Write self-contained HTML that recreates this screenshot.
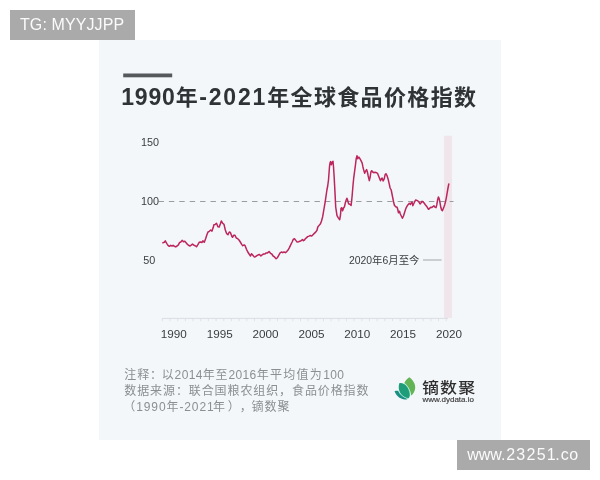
<!DOCTYPE html>
<html lang="zh-CN">
<head>
<meta charset="utf-8">
<title>1990年-2021年全球食品价格指数</title>
<style>
html,body{margin:0;padding:0;}
body{width:600px;height:480px;background:#fff;position:relative;overflow:hidden;font-family:"Liberation Sans","Noto Sans CJK SC",sans-serif;}
.tag{position:absolute;background:#aaaaaa;color:rgba(255,255,255,.95);font-family:"Liberation Sans",sans-serif;white-space:nowrap;}
#tag1{left:10px;top:10px;width:125px;height:30px;line-height:30px;font-size:16px;}
#tag1 span{position:absolute;left:10px;top:0.3px;letter-spacing:0.1px;}
#tag2{left:457px;top:440px;width:133px;height:30px;line-height:30px;font-size:16px;}
#tag2 span{position:absolute;left:10.2px;top:0.3px;}
#tag2 b{font-weight:normal;}
#tag2 .a{margin-left:0.8px;letter-spacing:1.25px;}
#tag2 .b{letter-spacing:-0.4px;}
#tag2 .c{margin-left:0.9px;letter-spacing:0.7px;}
#card{position:absolute;left:99px;top:40px;width:402px;height:400px;background:#f3f7fa;}
#art{position:absolute;left:0;top:0;width:600px;height:480px;}
#art text{font-family:"Liberation Sans","Noto Sans CJK SC",sans-serif;}
#title{font-size:22px;font-weight:bold;fill:#303336;letter-spacing:1.35px;}
#title .d{font-size:23px;letter-spacing:0.85px;}
#title .e{font-size:23px;letter-spacing:1.85px;}
.yl{font-size:10.8px;fill:#3a3d40;}
.xl{font-size:11.7px;fill:#3a3d40;}
#anno{font-size:10.4px;fill:#3a3d40;}
#note{font-size:12px;letter-spacing:0.9px;fill:#8b8f92;text-spacing-trim:space-all;}
#note .n{letter-spacing:0.35px;}
#note .w{letter-spacing:1.3px;}
#brand{font-size:17px;font-weight:500;letter-spacing:1.1px;fill:#2e2e2e;}
#url{font-family:"Liberation Sans",sans-serif;font-size:8px;fill:#3a3a3a;stroke:#3a3a3a;stroke-width:0.15px;}
</style>
</head>
<body>
<div class="tag" id="tag1"><span>TG: MYYJJPP</span></div>
<div id="card"></div>
<svg id="art" width="600" height="480" viewBox="0 0 600 480">
  <rect x="123.2" y="73.5" width="49" height="3.8" fill="#55595c"/>
  <text id="title" x="121.2" y="105.3"><tspan class="d">1990</tspan>年<tspan class="e">-2021</tspan>年全球食品价格指数</text>
  <rect x="444" y="135.7" width="8" height="182.2" fill="#f0e5eb"/>
  <line x1="158.5" y1="201.5" x2="453.5" y2="201.5" stroke="#9a9c9e" stroke-width="1.1" stroke-dasharray="5.4 5"/>
  <g stroke="#d3d7da" stroke-width="0.8">
    <line x1="162.3" y1="318.4" x2="448" y2="318.4"/>
  </g>
  <g stroke="#dadee1" stroke-width="0.8">
    <line x1="162.40" y1="318.4" x2="162.40" y2="321.2"/><line x1="170.07" y1="318.4" x2="170.07" y2="321.2"/><line x1="177.74" y1="318.4" x2="177.74" y2="321.2"/><line x1="185.41" y1="318.4" x2="185.41" y2="321.2"/><line x1="193.08" y1="318.4" x2="193.08" y2="321.2"/><line x1="200.75" y1="318.4" x2="200.75" y2="321.2"/><line x1="208.42" y1="318.4" x2="208.42" y2="321.2"/><line x1="216.09" y1="318.4" x2="216.09" y2="321.2"/><line x1="223.76" y1="318.4" x2="223.76" y2="321.2"/><line x1="231.43" y1="318.4" x2="231.43" y2="321.2"/><line x1="239.10" y1="318.4" x2="239.10" y2="321.2"/><line x1="246.77" y1="318.4" x2="246.77" y2="321.2"/><line x1="254.44" y1="318.4" x2="254.44" y2="321.2"/><line x1="262.11" y1="318.4" x2="262.11" y2="321.2"/><line x1="269.78" y1="318.4" x2="269.78" y2="321.2"/><line x1="277.45" y1="318.4" x2="277.45" y2="321.2"/><line x1="285.12" y1="318.4" x2="285.12" y2="321.2"/><line x1="292.79" y1="318.4" x2="292.79" y2="321.2"/><line x1="300.46" y1="318.4" x2="300.46" y2="321.2"/><line x1="308.13" y1="318.4" x2="308.13" y2="321.2"/><line x1="315.80" y1="318.4" x2="315.80" y2="321.2"/><line x1="323.47" y1="318.4" x2="323.47" y2="321.2"/><line x1="331.14" y1="318.4" x2="331.14" y2="321.2"/><line x1="338.81" y1="318.4" x2="338.81" y2="321.2"/><line x1="346.48" y1="318.4" x2="346.48" y2="321.2"/><line x1="354.15" y1="318.4" x2="354.15" y2="321.2"/><line x1="361.82" y1="318.4" x2="361.82" y2="321.2"/><line x1="369.49" y1="318.4" x2="369.49" y2="321.2"/><line x1="377.16" y1="318.4" x2="377.16" y2="321.2"/><line x1="384.83" y1="318.4" x2="384.83" y2="321.2"/><line x1="392.50" y1="318.4" x2="392.50" y2="321.2"/><line x1="400.17" y1="318.4" x2="400.17" y2="321.2"/><line x1="407.84" y1="318.4" x2="407.84" y2="321.2"/><line x1="415.51" y1="318.4" x2="415.51" y2="321.2"/><line x1="423.18" y1="318.4" x2="423.18" y2="321.2"/><line x1="430.85" y1="318.4" x2="430.85" y2="321.2"/><line x1="438.52" y1="318.4" x2="438.52" y2="321.2"/><line x1="446.19" y1="318.4" x2="446.19" y2="321.2"/>
  </g>
  <path d="M162.9,242.7 L164.3,242.3 L165.3,240.9 L166.7,243.3 L168.0,245.3 L169.3,246.3 L170.7,245.3 L172.0,246.0 L173.1,245.3 L174.4,246.3 L175.7,246.9 L177.1,246.0 L178.4,244.9 L179.5,242.7 L180.8,242.0 L182.1,240.4 L183.5,241.7 L184.8,241.2 L186.1,242.7 L187.5,244.4 L188.8,245.5 L190.1,246.0 L191.5,244.9 L192.5,244.1 L193.9,245.2 L195.2,245.7 L196.5,246.8 L197.9,244.7 L199.2,242.3 L200.5,242.0 L201.9,242.5 L202.9,240.9 L204.3,242.3 L205.6,238.7 L206.9,234.7 L208.0,232.0 L209.3,231.3 L210.7,230.0 L212.0,231.1 L213.3,227.3 L213.9,224.7 L215.2,224.4 L216.5,223.3 L217.9,226.7 L219.2,227.1 L220.3,224.0 L221.3,220.9 L222.7,223.3 L224.0,224.4 L225.3,230.0 L226.7,233.7 L228.0,234.7 L229.3,232.0 L230.4,232.4 L231.7,236.0 L232.5,237.3 L233.6,235.3 L235.0,235.3 L236.3,238.0 L237.7,238.7 L239.0,240.0 L240.3,242.0 L241.7,244.4 L242.7,245.7 L244.1,244.9 L245.1,245.7 L246.5,249.3 L247.8,252.0 L249.1,254.0 L250.5,256.0 L251.5,253.7 L252.9,255.3 L254.2,256.9 L255.5,256.7 L256.9,255.6 L258.2,254.8 L259.5,254.5 L260.9,256.0 L262.2,254.8 L263.5,254.0 L264.9,254.0 L266.2,252.9 L267.5,252.9 L269.1,251.6 L270.5,253.3 L271.8,254.0 L273.1,256.0 L274.5,256.9 L276.1,258.8 L277.4,257.7 L278.7,255.3 L280.1,252.9 L281.4,252.0 L282.7,252.7 L284.1,252.0 L285.4,252.7 L286.7,251.6 L288.1,250.0 L289.4,247.6 L290.7,244.9 L292.1,242.0 L293.4,239.1 L294.5,238.7 L295.8,240.4 L297.1,242.0 L298.5,241.7 L299.8,241.2 L301.1,240.7 L302.5,239.6 L303.5,240.7 L304.9,239.6 L305.0,239.0 L306.3,237.9 L307.7,236.6 L309.0,236.1 L310.3,235.5 L311.7,236.1 L313.0,234.7 L314.3,233.4 L315.7,232.1 L317.0,230.3 L317.8,227.0 L319.1,225.4 L320.5,223.7 L321.5,221.0 L322.6,217.0 L323.4,212.3 L324.2,207.7 L325.0,203.0 L325.8,197.7 L326.9,190.0 L327.7,186.0 L328.5,180.0 L329.0,173.3 L329.5,166.7 L330.1,162.7 L330.6,161.6 L331.4,164.7 L332.2,162.0 L333.0,161.3 L333.5,166.7 L334.1,176.0 L334.6,185.3 L335.1,194.7 L335.7,207.0 L336.5,212.3 L337.0,215.7 L338.3,217.9 L339.7,219.7 L340.5,215.0 L341.0,208.3 L341.8,207.7 L342.6,210.7 L343.7,207.7 L344.5,206.7 L345.3,203.0 L346.1,200.3 L346.9,198.3 L347.7,200.3 L348.5,203.7 L349.8,204.3 L351.1,205.4 L351.7,200.3 L352.2,195.0 L353.0,185.3 L353.8,177.3 L354.6,171.3 L355.4,165.3 L356.2,158.7 L357.0,155.7 L357.8,158.7 L358.9,157.1 L359.9,158.7 L361.0,160.7 L362.1,162.9 L362.9,166.7 L363.7,170.0 L364.7,173.3 L365.5,171.3 L366.6,169.6 L367.4,172.0 L368.2,176.0 L369.3,180.7 L370.1,177.3 L370.9,172.0 L371.7,170.7 L372.7,172.0 L373.8,172.7 L375.1,172.3 L376.5,172.7 L377.5,173.3 L378.6,176.0 L379.7,178.7 L380.5,180.7 L381.5,178.7 L382.1,178.0 L383.2,180.9 L384.3,178.7 L385.1,174.7 L385.9,173.7 L386.9,175.3 L388.0,178.7 L389.1,183.3 L390.1,188.0 L391.2,190.0 L392.0,194.0 L392.8,198.0 L393.6,202.0 L394.4,205.3 L395.7,206.7 L397.1,207.3 L397.9,210.0 L398.4,212.7 L399.5,211.3 L400.3,214.0 L401.3,216.0 L402.4,218.3 L403.5,216.0 L404.5,212.7 L405.6,209.3 L406.4,207.3 L407.5,205.3 L408.5,204.4 L409.3,203.3 L410.4,204.4 L411.2,202.7 L412.0,202.0 L412.8,205.7 L413.6,204.0 L414.7,201.7 L415.7,200.0 L416.8,200.4 L417.9,200.9 L418.9,202.0 L420.0,204.0 L421.1,202.7 L422.1,201.3 L423.2,202.0 L424.3,203.3 L425.3,204.7 L426.4,206.0 L427.5,207.6 L428.5,209.3 L429.6,208.4 L430.7,207.3 L431.7,207.6 L432.8,206.7 L433.9,205.7 L434.9,207.1 L436.0,207.6 L436.8,204.7 L437.6,200.0 L438.4,196.9 L439.2,198.7 L440.0,202.7 L440.8,207.3 L441.6,210.0 L442.4,210.7 L443.2,208.7 L444.0,206.7 L444.8,204.4 L445.6,201.3 L446.4,197.3 L447.2,192.7 L448.0,188.0 L448.8,184.0" fill="none" stroke="#bc265c" stroke-width="1.5" stroke-linejoin="round" stroke-linecap="round"/>
  <g text-anchor="middle" class="yl">
    <text x="150.1" y="145.7">150</text>
    <text x="150.1" y="204.9">100</text>
    <text x="149.3" y="264.1">50</text>
  </g>
  <g text-anchor="middle" class="xl">
    <text x="173.8" y="338.3">1990</text><text x="219.7" y="338.3">1995</text><text x="265.5" y="338.3">2000</text><text x="311.4" y="338.3">2005</text><text x="357.3" y="338.3">2010</text><text x="403.1" y="338.3">2015</text><text x="449.0" y="338.3">2020</text>
  </g>
  <text id="anno" x="349" y="264">2020年6月至今</text>
  <line x1="423" y1="260" x2="441.6" y2="260" stroke="#979b9e" stroke-width="0.9"/>
  <g id="note">
    <text x="124.3" y="378.5">注释：<tspan dx="-1.3">以</tspan><tspan class="n">2014</tspan>年至<tspan class="n">2016</tspan><tspan class="w">年平均值为</tspan><tspan class="n">100</tspan></text>
    <text x="124.3" y="394.6">数据来源：联合国粮农组织，食品价格指数</text>
    <text x="123.3" y="411.0">（1990年-2021<tspan x="212.9">年</tspan><tspan x="227.7">）</tspan><tspan x="239.7">，</tspan><tspan x="251.6">镝</tspan>数聚</text>
  </g>
  <g id="logo">
    <path d="M409.3,377.2 C413,380 415.6,384 415.2,388 C414.8,391.5 413.2,394 411.2,395.4 C410.5,390 408,386 404.3,383 C405.5,380.5 407,378.8 409.3,377.2 Z" fill="#62b455"/>
    <path d="M399.3,383.2 C402,382.6 405,384 407.5,387 C410,390.5 410.8,394.5 409.2,397.6 C408.8,398.2 408.2,398.5 407.5,398.5 C404,397.6 401,395 399.5,391.5 C398.5,389 398.5,386 399.3,383.2 Z" fill="#1f9d79"/>
    <path d="M394.5,391.3 C396,390.7 397.5,390.7 398.4,391 C399.5,394 402.5,397 407.6,398.9 C404.8,400.2 400.5,399 398,396.6 C396.3,394.9 395.2,393 394.5,391.3 Z" fill="#1b8f83"/>
    <path d="M404.3,383 C407.5,385.5 410,390 410.3,395.7" fill="none" stroke="#a5f0dc" stroke-width="0.6"/>
    <path d="M398.5,390.3 C399.5,394 403,397.3 408,398.5" fill="none" stroke="#a5f0dc" stroke-width="0.6"/>
  </g>
  <text id="brand" transform="translate(422,392.5) scale(1,0.9)">镝数聚</text>
  <text id="url" x="422.4" y="401.8">www.dydata.io</text>
</svg>
<div class="tag" id="tag2"><span>www.<b class="a">2325</b><b class="b">1</b>.<b class="c">c</b>o</span></div>
</body>
</html>
